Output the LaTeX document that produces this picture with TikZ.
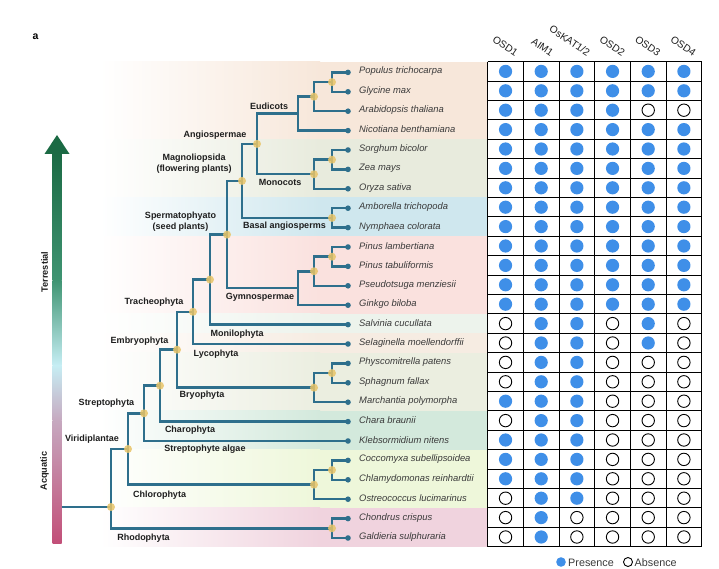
\documentclass[tikz,border=0pt]{standalone}
\usepackage{fontspec}
\setmainfont{Liberation Sans}
\definecolor{treeblue}{HTML}{2E6F8C}
\definecolor{knotyellow}{HTML}{E8C468}
\definecolor{taxgray}{HTML}{3A3A3A}
\definecolor{cladeblack}{HTML}{1E1E1E}
\definecolor{presblue}{HTML}{3F8FE8}
\definecolor{bEud}{HTML}{F7E7DA}
\definecolor{bMono}{HTML}{E8EBDD}
\definecolor{bBasal}{HTML}{CFE7EE}
\definecolor{bGymno}{HTML}{FAE1DE}
\definecolor{bMoni}{HTML}{EDF3EC}
\definecolor{bLyco}{HTML}{F6ECE2}
\definecolor{bBryo}{HTML}{EBEEE0}
\definecolor{bCharo}{HTML}{D3E9DC}
\definecolor{bChloro}{HTML}{EEF7DA}
\definecolor{bRhodo}{HTML}{F0D3DE}
\definecolor{arA}{HTML}{1B6A44}
\definecolor{arB}{HTML}{3F9472}
\definecolor{arC}{HTML}{C6EEF4}
\definecolor{arD}{HTML}{C6A9C0}
\definecolor{arE}{HTML}{C24F78}
\newcommand\cellmark[3]{%
  \pgfmathsetmacro\cellx{487.7+35.67*(#1-0.5)}%
  \pgfmathsetmacro\celly{61.7+19.4*(#2-0.5)}%
  \ifnum#3=1 \fill[presence] (\cellx,\celly) circle[radius=6.6pt];\else\draw[absence] (\cellx,\celly) circle[radius=6.2pt];\fi}
\newcommand\cellrow[7]{\cellmark{1}{#1}{#2}\cellmark{2}{#1}{#3}\cellmark{3}{#1}{#4}\cellmark{4}{#1}{#5}\cellmark{5}{#1}{#6}\cellmark{6}{#1}{#7}}
\newcommand\band[3]{%
  \fill[left color=white, right color=#1] (100,#2) rectangle (320,#3);
  \fill[#1] (319.5,#2) rectangle (487.7,#3);}
\begin{document}
\begin{tikzpicture}[x=1pt,y=-1pt,
  tree/.style={draw=treeblue, line width=2.5pt},
  knot/.style={fill=knotyellow, fill opacity=0.85},
  taxon/.style={font=\fontsize{9.4}{10}\selectfont\itshape, text=taxgray, anchor=west, inner sep=0},
  clade/.style={font=\fontsize{9}{11.5}\selectfont\bfseries, text=cladeblack, inner sep=0, align=center},
  head/.style={font=\fontsize{10.2}{11}\selectfont, text=cladeblack, rotate=-34, anchor=south east, inner sep=0.3pt},
  presence/.style={fill=presblue},
  absence/.style={draw=black, line width=0.9pt},
  gridline/.style={draw=black, line width=0.9pt},
  legendtext/.style={font=\fontsize{10.8}{12}\selectfont, text=taxgray, anchor=west, inner sep=0}]
\useasboundingbox (0,0) rectangle (719,569);
\fill[white] (0,0) rectangle (719,569);

% background bands
\band{bEud}{61.7}{139.3}
\band{bMono}{139.3}{197.5}
\band{bBasal}{197.5}{236.3}
\band{bGymno}{236.3}{313.9}
\band{bMoni}{313.9}{333.3}
\band{bLyco}{333.3}{352.7}
\band{bBryo}{352.7}{410.9}
\band{bCharo}{410.9}{449.7}
\band{bChloro}{449.7}{507.9}
\band{bRhodo}{507.9}{546.7}

% panel letter
\node[font=\fontsize{10.5}{12}\selectfont\bfseries, inner sep=0] (panel) at (35.5,37) {a};

% gradient arrow
\shade[top color=arA, bottom color=arB] (52.5,152) rectangle (61.5,280.5);
\shade[top color=arB, bottom color=arC] (52.5,280) rectangle (61.5,365.5);
\shade[top color=arC, bottom color=arD] (52.5,365) rectangle (61.5,420.5);
\shade[top color=arD, bottom color=arE] (52.5,420) rectangle (61.5,543);
\fill[arA] (44.5,154) -- (57,135) -- (69.5,154) -- cycle;
\node[font=\fontsize{9.2}{10}\selectfont\bfseries, text=cladeblack, rotate=90, inner sep=0] (terr) at (44.5,272) {Terrestial};
\node[font=\fontsize{9.2}{10}\selectfont\bfseries, text=cladeblack, rotate=90, inner sep=0] (aqua) at (44.5,471) {Acquatic};

% tips
\coordinate (tip1) at (348,72.4);
\coordinate (tip2) at (348,91.8);
\coordinate (tip3) at (348,111.2);
\coordinate (tip4) at (348,130.6);
\coordinate (tip5) at (348,150.0);
\coordinate (tip6) at (348,169.4);
\coordinate (tip7) at (348,188.8);
\coordinate (tip8) at (348,208.2);
\coordinate (tip9) at (348,227.6);
\coordinate (tip10) at (348,247.0);
\coordinate (tip11) at (348,266.4);
\coordinate (tip12) at (348,285.8);
\coordinate (tip13) at (348,305.2);
\coordinate (tip14) at (348,324.6);
\coordinate (tip15) at (348,344.0);
\coordinate (tip16) at (348,363.4);
\coordinate (tip17) at (348,382.8);
\coordinate (tip18) at (348,402.2);
\coordinate (tip19) at (348,421.6);
\coordinate (tip20) at (348,441.0);
\coordinate (tip21) at (348,460.4);
\coordinate (tip22) at (348,479.8);
\coordinate (tip23) at (348,499.2);
\coordinate (tip24) at (348,518.6);
\coordinate (tip25) at (348,538.0);

% internal nodes
\coordinate (n12) at (332,82.1);
\coordinate (n123) at (314,96.65);
\coordinate (eud) at (298,113.6);
\coordinate (n56) at (332,159.7);
\coordinate (mono) at (314,174.25);
\coordinate (angio) at (257,143.9);
\coordinate (basal) at (332,217.9);
\coordinate (magn) at (242,180.9);
\coordinate (n1011) at (332,256.7);
\coordinate (n1012) at (314,271.25);
\coordinate (gymno) at (298,288.2);
\coordinate (sperm) at (227,234.6);
\coordinate (euphyl) at (210,279.6);
\coordinate (trach) at (193,311.8);
\coordinate (n1617) at (332,373.1);
\coordinate (bryo) at (314,387.65);
\coordinate (embryo) at (177,349.7);
\coordinate (phragmo) at (160,385.65);
\coordinate (strepto) at (144,413.3);
\coordinate (n2122) at (332,470.1);
\coordinate (chloro) at (314,484.65);
\coordinate (virid) at (128,449);
\coordinate (rhodo) at (332,528.3);
\coordinate (root) at (111,507);
\coordinate (stem) at (61.5,507);

% branches
\draw[tree] (n12) |- (tip1);  \draw[tree] (n12) |- (tip2);
\draw[tree] (n123) |- (n12);  \draw[tree] (n123) |- (tip3);
\draw[tree] (eud) |- (n123);  \draw[tree] (eud) |- (tip4);
\draw[tree] (n56) |- (tip5);  \draw[tree] (n56) |- (tip6);
\draw[tree] (mono) |- (n56);  \draw[tree] (mono) |- (tip7);
\draw[tree] (angio) |- (eud); \draw[tree] (angio) |- (mono);
\draw[tree] (basal) |- (tip8); \draw[tree] (basal) |- (tip9);
\draw[tree] (magn) |- (angio); \draw[tree] (magn) |- (basal);
\draw[tree] (n1011) |- (tip10); \draw[tree] (n1011) |- (tip11);
\draw[tree] (n1012) |- (n1011); \draw[tree] (n1012) |- (tip12);
\draw[tree] (gymno) |- (n1012); \draw[tree] (gymno) |- (tip13);
\draw[tree] (sperm) |- (magn); \draw[tree] (sperm) |- (gymno);
\draw[tree] (euphyl) |- (sperm); \draw[tree] (euphyl) |- (tip14);
\draw[tree] (trach) |- (euphyl); \draw[tree] (trach) |- (tip15);
\draw[tree] (n1617) |- (tip16); \draw[tree] (n1617) |- (tip17);
\draw[tree] (bryo) |- (n1617); \draw[tree] (bryo) |- (tip18);
\draw[tree] (embryo) |- (trach); \draw[tree] (embryo) |- (bryo);
\draw[tree] (phragmo) |- (embryo); \draw[tree] (phragmo) |- (tip19);
\draw[tree] (strepto) |- (phragmo); \draw[tree] (strepto) |- (tip20);
\draw[tree] (n2122) |- (tip21); \draw[tree] (n2122) |- (tip22);
\draw[tree] (chloro) |- (n2122); \draw[tree] (chloro) |- (tip23);
\draw[tree] (virid) |- (strepto); \draw[tree] (virid) |- (chloro);
\draw[tree] (rhodo) |- (tip24); \draw[tree] (rhodo) |- (tip25);
\draw[tree] (root) |- (virid); \draw[tree] (root) |- (rhodo);
\draw[tree] (stem) -- (root);

% tip dots
\foreach \k in {1,...,25} \fill[treeblue] (tip\k) circle[radius=2.8pt];
% knot dots
\foreach \k in {n12,n123,angio,n56,mono,magn,basal,sperm,n1011,n1012,euphyl,trach,embryo,n1617,bryo,phragmo,strepto,virid,n2122,chloro,root,rhodo}
  \fill[knot] (\k) circle[radius=4pt];

% clade labels
\node[clade] (lEud) at (269,106) {Eudicots};
\node[clade] (lAngio) at (215,135) {Angiospermae};
\node[clade] (lMagn) at (194,163.5) {Magnoliopsida\\(flowering plants)};
\node[clade] (lMono) at (280,182) {Monocots};
\node[clade] (lSperm) at (180.5,221.5) {Spermatophyato\\(seed plants)};
\node[clade] (lBasal) at (284.5,226) {Basal angiosperms};
\node[clade] (lGymno) at (260,297) {Gymnospermae};
\node[clade] (lTrach) at (154,302.5) {Tracheophyta};
\node[clade] (lMoni) at (237,334) {Monilophyta};
\node[clade] (lEmbryo) at (139.5,341) {Embryophyta};
\node[clade] (lLyco) at (216,354) {Lycophyta};
\node[clade] (lBryo) at (202,395) {Bryophyta};
\node[clade] (lStrepto) at (106.5,403) {Streptophyta};
\node[clade] (lCharo) at (190,430) {Charophyta};
\node[clade] (lVirid) at (92,439) {Viridiplantae};
\node[clade] (lSalgae) at (205,449) {Streptophyte algae};
\node[clade] (lChloro) at (159.5,495) {Chlorophyta};
\node[clade] (lRhodo) at (143.5,538) {Rhodophyta};

% taxon labels
\node[taxon] (t1) at (359,71.4) {Populus trichocarpa};
\node[taxon] (t2) at (359,90.8) {Glycine max};
\node[taxon] (t3) at (359,110.2) {Arabidopsis thaliana};
\node[taxon] (t4) at (359,129.6) {Nicotiana benthamiana};
\node[taxon] (t5) at (359,149.0) {Sorghum bicolor};
\node[taxon] (t6) at (359,168.4) {Zea mays};
\node[taxon] (t7) at (359,187.8) {Oryza sativa};
\node[taxon] (t8) at (359,207.2) {Amborella trichopoda};
\node[taxon] (t9) at (359,226.6) {Nymphaea colorata};
\node[taxon] (t10) at (359,246.0) {Pinus lambertiana};
\node[taxon] (t11) at (359,265.4) {Pinus tabuliformis};
\node[taxon] (t12) at (359,284.8) {Pseudotsuga menziesii};
\node[taxon] (t13) at (359,304.2) {Ginkgo biloba};
\node[taxon] (t14) at (359,323.6) {Salvinia cucullata};
\node[taxon] (t15) at (359,343.0) {Selaginella moellendorffii};
\node[taxon] (t16) at (359,362.4) {Physcomitrella patens};
\node[taxon] (t17) at (359,381.8) {Sphagnum fallax};
\node[taxon] (t18) at (359,401.2) {Marchantia polymorpha};
\node[taxon] (t19) at (359,420.6) {Chara braunii};
\node[taxon] (t20) at (359,440.0) {Klebsormidium nitens};
\node[taxon] (t21) at (359,459.4) {Coccomyxa subellipsoidea};
\node[taxon] (t22) at (359,478.8) {Chlamydomonas reinhardtii};
\node[taxon] (t23) at (359,498.2) {Ostreococcus lucimarinus};
\node[taxon] (t24) at (359,517.6) {Chondrus crispus};
\node[taxon] (t25) at (359,537.0) {Galdieria sulphuraria};

% table
\fill[white] (487.7,61.7) rectangle (701.7,546.7);
\foreach \k in {0,...,25} \draw[gridline] (487.7,{61.7+19.4*\k}) -- (701.7,{61.7+19.4*\k});
\foreach \k in {0,...,6} \draw[gridline] ({487.7+35.67*\k},61.7) -- ({487.7+35.67*\k},546.7);

\cellrow{1}{1}{1}{1}{1}{1}{1}
\cellrow{2}{1}{1}{1}{1}{1}{1}
\cellrow{3}{1}{1}{1}{1}{0}{0}
\cellrow{4}{1}{1}{1}{1}{1}{1}
\cellrow{5}{1}{1}{1}{1}{1}{1}
\cellrow{6}{1}{1}{1}{1}{1}{1}
\cellrow{7}{1}{1}{1}{1}{1}{1}
\cellrow{8}{1}{1}{1}{1}{1}{1}
\cellrow{9}{1}{1}{1}{1}{1}{1}
\cellrow{10}{1}{1}{1}{1}{1}{1}
\cellrow{11}{1}{1}{1}{1}{1}{1}
\cellrow{12}{1}{1}{1}{1}{1}{1}
\cellrow{13}{1}{1}{1}{1}{1}{1}
\cellrow{14}{0}{1}{1}{0}{1}{0}
\cellrow{15}{0}{1}{1}{0}{1}{0}
\cellrow{16}{0}{1}{1}{0}{0}{0}
\cellrow{17}{0}{1}{1}{0}{0}{0}
\cellrow{18}{1}{1}{1}{0}{0}{0}
\cellrow{19}{0}{1}{1}{0}{0}{0}
\cellrow{20}{1}{1}{1}{0}{0}{0}
\cellrow{21}{1}{1}{1}{0}{0}{0}
\cellrow{22}{1}{1}{1}{0}{0}{0}
\cellrow{23}{0}{1}{1}{0}{0}{0}
\cellrow{24}{0}{1}{0}{0}{0}{0}
\cellrow{25}{0}{1}{0}{0}{0}{0}

% column headers
\node[head] (h1) at (515,57.5) {OSD1};
\node[head] (h2) at (550.5,57.5) {AIM1};
\node[head] (h3) at (587,57.5) {OsKAT1/2};
\node[head] (h4) at (622,57.5) {OSD2};
\node[head] (h5) at (657.5,57.5) {OSD3};
\node[head] (h6) at (693,57.5) {OSD4};

% legend
\fill[presence] (561,562) circle[radius=4.8pt];
\node[legendtext] (lpres) at (568,562.5) {Presence};
\draw[absence] (628,562) circle[radius=4.5pt];
\node[legendtext] (labs) at (634.5,562.5) {Absence};
\end{tikzpicture}
\end{document}
